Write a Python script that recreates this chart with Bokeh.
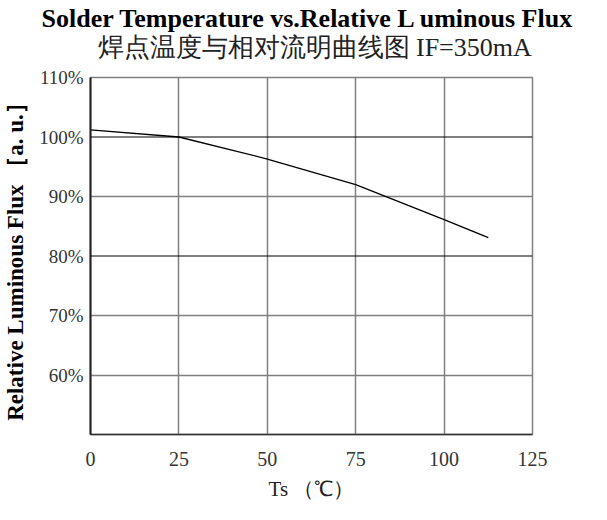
from bokeh.plotting import figure
from bokeh.models import Title, Span, FixedTicker
from bokeh.embed import file_html
from bokeh.resources import INLINE

# ---- data ----
temp_c = [0, 25, 50, 75, 100, 112.5]
rel_flux = [101.2, 100.0, 96.3, 92.0, 86.1, 83.1]

x_ticks = [0, 25, 50, 75, 100, 125]
x_tick_labels = ["0", "25", "50", "75", "100", "125"]
x_grid = [25, 50, 75, 100]
y_ticks = [60, 70, 80, 90, 100, 110]
y_tick_labels = ["60%", "70%", "80%", "90%", "100%", "110%"]
dark_grid = [80, 100]
light_grid = [60, 70, 90]

title1 = "Solder Temperature vs.Relative L  uminous Flux"
title2 = "焊点温度与相对流明曲线图  IF=350mA"
x_label = "Ts （℃）"
y_label = "Relative Luminous Flux ［a. u.］"

SERIF = "Liberation Serif"

p = figure(width=591, height=504, x_range=(0, 125), y_range=(50, 110),
           output_backend="svg", toolbar_location=None,
           min_border_left=87, min_border_right=59, min_border_bottom=70,
           min_border_top=77)

p.background_fill_color = "white"
p.border_fill_color = "white"
p.outline_line_color = "#808080"
p.outline_line_width = 1.5

# titles (p.title is the outermost one)
p.title.text = title1
p.title.text_font = SERIF
p.title.text_font_size = "26px"
p.title.text_font_style = "bold"
p.title.align = "left"
p.title.offset = -49
p.title.standoff = -26
p.title.vertical_align = "bottom"
p.title.text_color = "black"
p.add_layout(Title(text=title2, text_font=SERIF, text_font_size="26px",
                   text_font_style="normal", align="left", offset=7,
                   standoff=27, vertical_align="top",
                   text_color="#222222"),
             "above")

# axes
p.xaxis.ticker = FixedTicker(ticks=x_ticks)
p.xaxis.major_label_overrides = dict(zip(x_ticks, x_tick_labels))
p.yaxis.ticker = FixedTicker(ticks=y_ticks)
p.yaxis.major_label_overrides = dict(zip(y_ticks, y_tick_labels))

for ax in (p.xaxis, p.yaxis):
    ax.major_tick_line_color = None
    ax.minor_tick_line_color = None
    ax.major_label_text_font = SERIF
    ax.major_label_text_color = "#333333"
    ax.axis_label_text_font = SERIF
    ax.axis_label_text_color = "#222222"

p.xaxis.major_label_text_font_size = "20px"
p.xaxis.major_label_standoff = 11
p.xaxis.major_label_text_line_height = 0.8
p.xaxis.axis_line_color = "#333333"
p.xaxis.axis_line_width = 1.5
p.xaxis.axis_label = x_label
p.xaxis.axis_label_text_font_size = "21px"
p.xaxis.axis_label_text_font_style = "normal"
p.xaxis.axis_label_text_line_height = 0.8
p.xaxis.axis_label_standoff = 8

p.yaxis.major_label_text_font_size = "19px"
p.yaxis.major_label_standoff = 1
p.yaxis.axis_line_color = "#222222"
p.yaxis.axis_line_width = 2
p.yaxis.axis_label = y_label
p.yaxis.axis_label_text_font_size = "23px"
p.yaxis.axis_label_text_font_style = "bold"
p.yaxis.axis_label_text_color = "black"
p.yaxis.axis_label_standoff = 8

# grid
p.xgrid.ticker = FixedTicker(ticks=x_grid)
p.xgrid.grid_line_color = "#808080"
p.xgrid.grid_line_width = 1.5
p.ygrid.ticker = FixedTicker(ticks=light_grid)
p.ygrid.grid_line_color = "#808080"
p.ygrid.grid_line_width = 1.5
for g in dark_grid:
    p.add_layout(Span(location=g, dimension="width", line_color="black",
                      line_width=1.2))

# curve
p.line(temp_c, rel_flux, line_color="black", line_width=1.3)

open("out.html", "w").write(file_html(p, INLINE))
